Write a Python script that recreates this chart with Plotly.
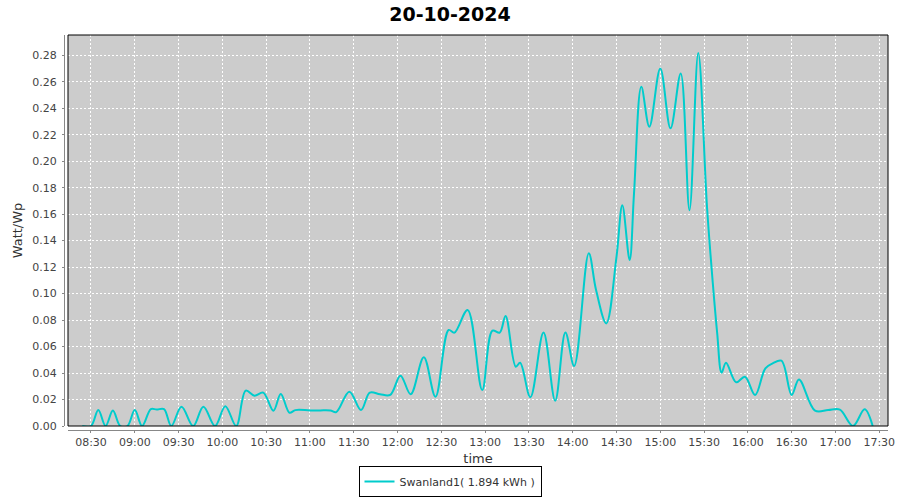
import plotly.graph_objects as go

DAY = "2024-10-20"
times = ["08:24", "08:30", "08:35", "08:40", "08:45", "08:50", "08:55", "09:00", "09:05", "09:11",
         "09:15", "09:20", "09:25", "09:32", "09:40", "09:47", "09:55", "10:02", "10:09:30", "10:16",
         "10:22", "10:28", "10:35", "10:40", "10:46", "10:50", "11:00", "11:07", "11:14", "11:18",
         "11:27", "11:35", "11:41", "11:48", "11:55", "12:02", "12:09", "12:18", "12:26", "12:35",
         "12:39", "12:48", "12:58", "13:05", "13:10", "13:14", "13:21", "13:24", "13:31", "13:40",
         "13:48", "13:55", "14:01", "14:11", "14:16", "14:23", "14:30", "14:34", "14:39", "14:42",
         "14:47", "14:52:30", "15:00", "15:07", "15:14", "15:20", "15:26", "15:32", "15:36", "15:39",
         "15:42", "15:45", "15:52", "15:58", "16:05", "16:12", "16:17", "16:23", "16:30", "16:35",
         "16:46", "16:55", "17:03", "17:12", "17:20", "17:25:30"]
watt_per_wp = [0, 0, 0.0121, 0, 0.0117, 0, 0, 0.012, 0, 0.0128,
               0.0124, 0.0128, 0, 0.0146, 0, 0.0146, 0, 0.015, 0, 0.0267,
               0.0229, 0.0252, 0.0116, 0.0242, 0.010, 0.012, 0.0118, 0.0118, 0.0117, 0.0105,
               0.0259, 0.0121, 0.0252, 0.0240, 0.0235, 0.038, 0.024, 0.0519, 0.0221, 0.0725,
               0.0705, 0.0876, 0.0272, 0.072, 0.0705, 0.0831, 0.0448, 0.0478, 0.0217, 0.0707,
               0.0191, 0.0707, 0.0453, 0.1304, 0.1027, 0.0775, 0.1278, 0.1668, 0.1254, 0.1757,
               0.2562, 0.226, 0.270, 0.2248, 0.2663, 0.163, 0.2818, 0.1656, 0.1077, 0.070,
               0.0403, 0.0478, 0.033, 0.0372, 0.0234, 0.0436, 0.0473, 0.0493, 0.0234, 0.0352,
               0.0116, 0.012, 0.0123, 0, 0.0126, 0]
series_name = "Swanland1( 1.894 kWh )"
title_text = "20-10-2024"
x_title = "time"
y_title = "Watt/Wp"

x = [f"{DAY} {t}" for t in times]

fig = go.Figure()
fig.add_trace(go.Scatter(
    x=x, y=watt_per_wp, mode="lines", name=series_name,
    line=dict(color="#00CCCC", width=2, shape="spline", smoothing=1.0),
    showlegend=True,
))

FONT = "DejaVu Sans"
fig.update_layout(
    width=900, height=500,
    margin=dict(l=64, r=12, t=35, b=70, autoexpand=False),
    paper_bgcolor="white",
    plot_bgcolor="#CCCCCC",
    font=dict(family=FONT, size=11, color="#444444"),
    title=dict(text=f"<b>{title_text}</b>", x=0.5, xanchor="center", xref="container",
               y=1 - 14 / 500, yanchor="middle", yref="container",
               font=dict(family=FONT, size=19, color="black")),
    showlegend=True,
    legend=dict(orientation="h", x=0.5, xanchor="center", xref="container",
                y=3 / 500, yanchor="bottom", yref="container",
                bordercolor="black", borderwidth=1, bgcolor="white",
                font=dict(family=FONT, size=11, color="#333333")),
    xaxis=dict(
        domain=[4 / 824, 1], anchor="free", position=0, automargin=False,
        type="date", range=[f"{DAY} 08:14:15", f"{DAY} 17:36:00"],
        dtick=1800000, tick0=f"{DAY} 08:30", tickformat="%H:%M",
        showgrid=True, gridcolor="white", griddash="2px,2px", gridwidth=1,
        showline=True, linecolor="#888888", linewidth=1,
        ticks="outside", ticklen=2, tickcolor="#888888",
        zeroline=False,
        title=dict(text=x_title, font=dict(family=FONT, size=13, color="#333333"), standoff=6),
    ),
    yaxis=dict(
        domain=[4 / 395, 1], anchor="free", position=0, automargin=False,
        range=[0, 0.2953], dtick=0.02, tick0=0, tickformat=".2f",
        showgrid=True, gridcolor="white", griddash="2px,2px", gridwidth=1,
        showline=True, linecolor="#888888", linewidth=1,
        ticks="outside", ticklen=2, tickcolor="#888888", ticklabelstandoff=3,
        zeroline=False,
        title=dict(text=y_title, font=dict(family=FONT, size=13, color="#333333"), standoff=5),
    ),
    shapes=[dict(type="rect", xref="x domain", yref="y domain", x0=0, x1=1, y0=0, y1=1,
                 line=dict(color="black", width=1), fillcolor="rgba(0,0,0,0)", layer="above")],
)

fig.write_html("out.html", config={"displayModeBar": False},
               post_script="document.body.style.margin='0px';")
